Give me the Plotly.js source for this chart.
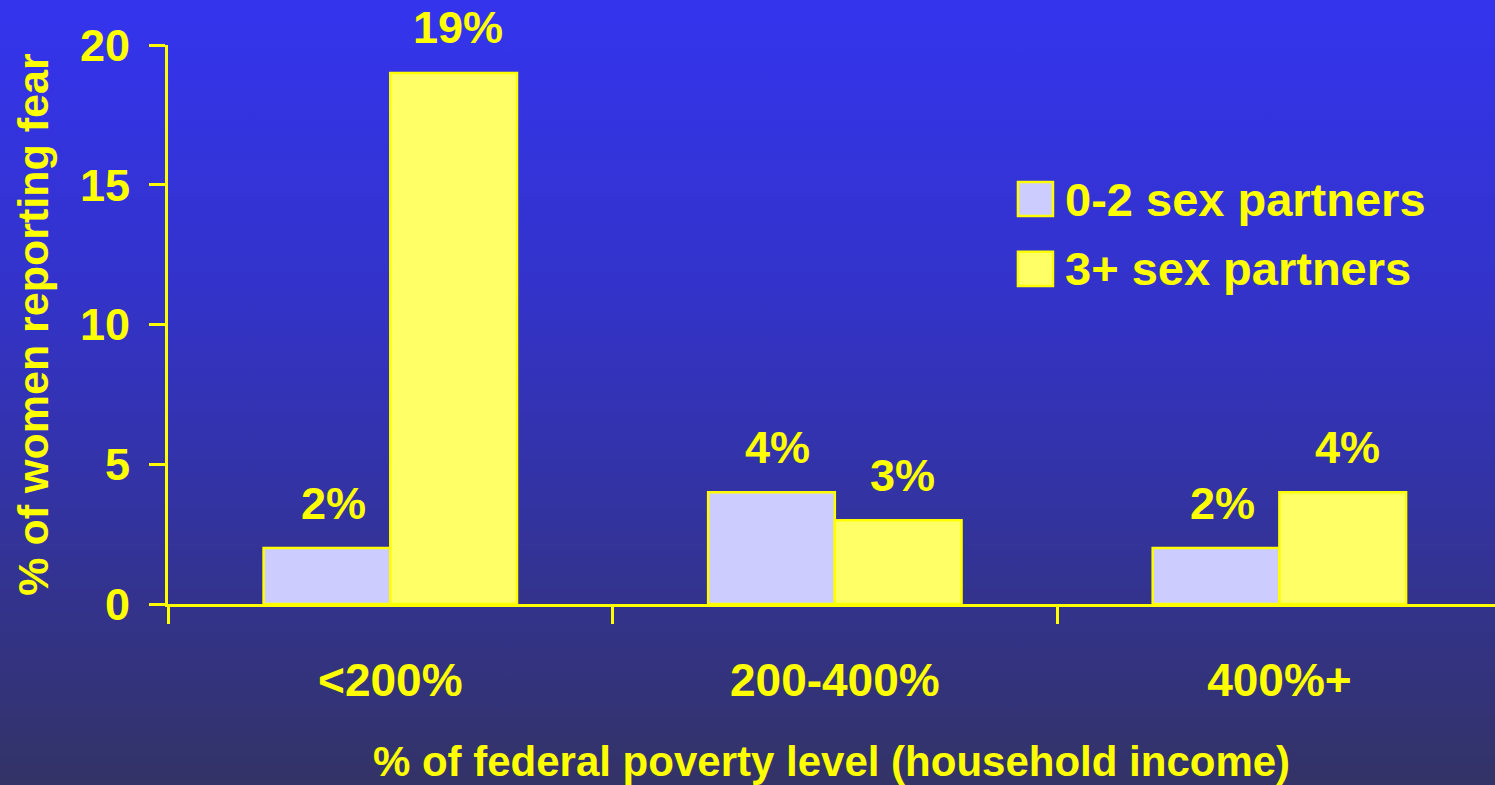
<!DOCTYPE html>
<html>
<head>
<meta charset="utf-8">
<script src="https://cdn.plot.ly/plotly-3.0.1.min.js"></script>
<style>
  html, body { margin: 0; padding: 0; width: 1495px; height: 785px; overflow: hidden;
    background: linear-gradient(to bottom, #3434ee 0%, #3333cc 35%, #3333a0 65%, #333366 100%); }
  #chart { width: 1495px; height: 785px; }
</style>
</head>
<body>
<div id="chart"></div>
<script>
// ---- data ----
const categories = ['<200%', '200-400%', '400%+'];
const seriesNames = ['0-2 sex partners', '3+ sex partners'];
const partners02 = [2, 4, 2];
const partners3plus = [19, 3, 4];
const yTickVals = [0, 5, 10, 15, 20];

const YELLOW = '#ffff00';
const LAV = '#ccccff';
const LIGHTY = '#ffff66';
const FONT = 'Liberation Sans, Arial, Helvetica, sans-serif';

const traces = [
  { type: 'bar', name: seriesNames[0], x: categories, y: partners02,
    marker: { color: LAV, line: { color: YELLOW, width: 2.5 } }, showlegend: false },
  { type: 'bar', name: seriesNames[1], x: categories, y: partners3plus,
    marker: { color: LIGHTY, line: { color: YELLOW, width: 2.5 } }, showlegend: false }
];

const annotations = [];
[partners02, partners3plus].forEach((vals, si) => {
  vals.forEach((v, i) => {
    annotations.push({
      x: categories[i], y: v, xref: 'x', yref: 'y',
      text: v + '%', showarrow: false,
      xshift: si === 0 ? -57 : 68, yshift: 45, yanchor: 'middle',
      font: { family: FONT, size: 45, color: YELLOW, weight: 'bold' }
    });
  });
});

// custom legend (large swatches)
const swatchColors = [LAV, LIGHTY];
const shapes = [];
const legY = [[0.755, 0.694], [0.630, 0.569]];
const legTextY = [0.7245, 0.600];
seriesNames.forEach((n, k) => {
  shapes.push({ type: 'rect', xref: 'paper', yref: 'paper',
    x0: 0.6405, x1: 0.6669, y0: legY[k][1], y1: legY[k][0],
    fillcolor: swatchColors[k], line: { color: YELLOW, width: 2.5 } });
  annotations.push({ xref: 'paper', yref: 'paper', x: 0.6745, y: legTextY[k],
    xanchor: 'left', yanchor: 'middle', text: n, showarrow: false,
    font: { family: FONT, size: 47, color: YELLOW, weight: 'bold' } });
});

const layout = {
  width: 1495, height: 785,
  margin: { l: 168, r: 0, t: 45, b: 181 },
  paper_bgcolor: 'rgba(0,0,0,0)', plot_bgcolor: 'rgba(0,0,0,0)',
  barmode: 'group', bargap: 0.43, bargroupgap: 0,
  font: { family: FONT, color: YELLOW, size: 45, weight: 'bold' },
  showlegend: false,
  xaxis: {
    type: 'category', range: [-0.5, 2.485],
    showline: true, linecolor: YELLOW, linewidth: 3,
    ticks: 'outside', tickson: 'boundaries', ticklen: 17, tickwidth: 3, tickcolor: YELLOW,
    showgrid: false, zeroline: false,
    ticklabelstandoff: 34,
    tickfont: { family: FONT, size: 46, color: YELLOW, weight: 'bold' },
    title: { text: '% of federal poverty level (household income)', standoff: 46,
      font: { family: FONT, size: 42, color: YELLOW, weight: 'bold' } }
  },
  yaxis: {
    range: [0, 20], tickvals: yTickVals,
    showline: true, linecolor: YELLOW, linewidth: 3,
    ticks: 'outside', ticklen: 16, tickwidth: 3, tickcolor: YELLOW,
    showgrid: false, zeroline: false,
    ticklabelstandoff: 10,
    tickfont: { family: FONT, size: 45, color: YELLOW, weight: 'bold' },
    title: { text: '% of women reporting fear', standoff: 18,
      font: { family: FONT, size: 43, color: YELLOW, weight: 'bold' } }
  },
  shapes: shapes,
  annotations: annotations
};

Plotly.newPlot('chart', traces, layout, { displayModeBar: false, staticPlot: true });
</script>
</body>
</html>
